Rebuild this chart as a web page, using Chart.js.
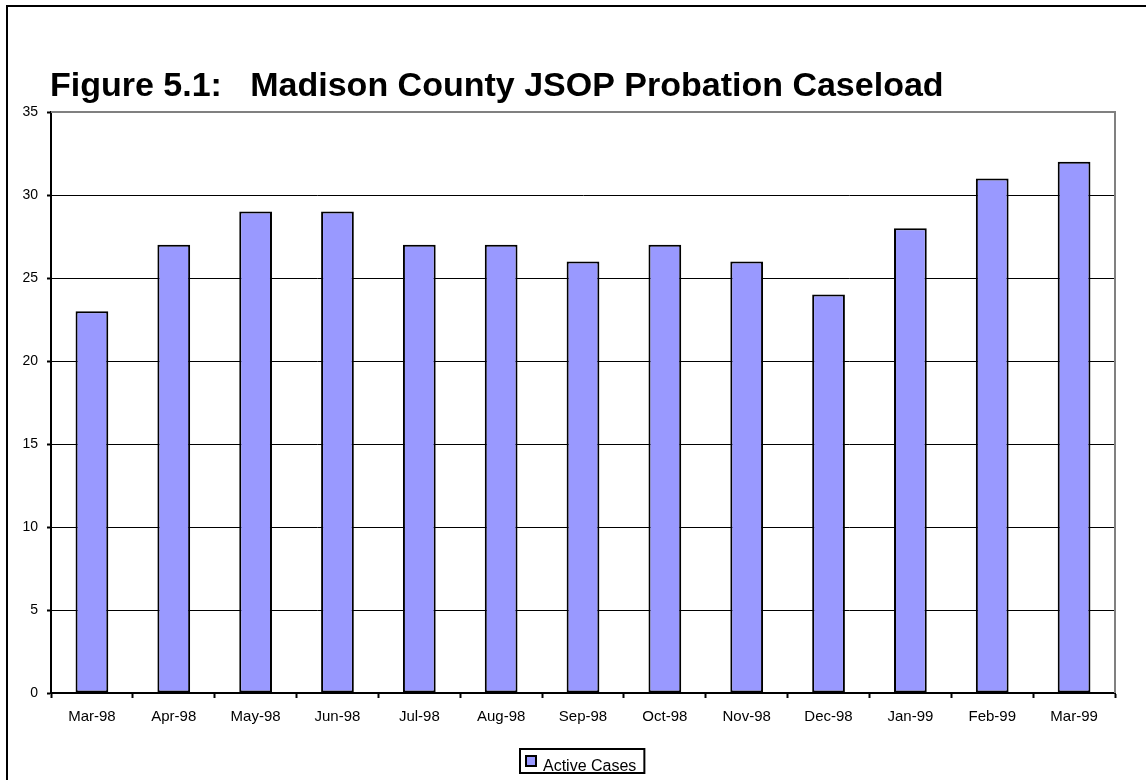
<!DOCTYPE html>
<html>
<head>
<meta charset="utf-8">
<style>
  html, body { margin: 0; padding: 0; background: #fff; }
  #wrap { position: relative; width: 1146px; height: 780px; overflow: hidden; }
  #frame { position: absolute; left: 6px; top: 5px; width: 1200px; height: 800px;
           border-top: 2px solid #000; border-left: 2px solid #000; pointer-events: none; }
  canvas { position: absolute; left: 0; top: 0; }
</style>
</head>
<body>
<div id="wrap">
  <canvas id="chart" width="1146" height="780"></canvas>
  <div id="frame"></div>
</div>
<script src="https://cdn.jsdelivr.net/npm/chart.js@4"></script>
<script>
var months = ['Mar-98', 'Apr-98', 'May-98', 'Jun-98', 'Jul-98', 'Aug-98', 'Sep-98',
              'Oct-98', 'Nov-98', 'Dec-98', 'Jan-99', 'Feb-99', 'Mar-99'];
var activeCases = [23, 27, 29, 29, 27, 27, 26, 27, 26, 24, 28, 31, 32];
var titleText = 'Figure 5.1:   Madison County JSOP Probation Caseload';
var seriesName = 'Active Cases';

var FONT = '"Liberation Sans", Arial, sans-serif';

// title, plot frame and legend box, drawn like the old Excel chart
var decor = {
    id: 'decor',
    beforeDatasetsDraw: function (chart) {
        var c = chart.ctx, a = chart.chartArea;
        c.save();
        c.strokeStyle = '#808080';
        c.lineWidth = 2;
        c.beginPath();
        c.moveTo(a.left, a.top);
        c.lineTo(a.right, a.top);
        c.lineTo(a.right, a.bottom);
        c.stroke();
        c.restore();
    },
    afterDraw: function (chart) {
        var c = chart.ctx;
        c.save();
        c.fillStyle = '#000';
        c.font = 'bold 34px ' + FONT;
        c.textBaseline = 'alphabetic';
        c.fillText(titleText, 50, 96);

        // legend
        var ds = chart.data.datasets[0];
        c.font = '16px ' + FONT;
        var tw = c.measureText(ds.label).width;
        var bw = tw + 31, bx = Math.round(chart.width / 2 - bw / 2 + 9);
        c.lineWidth = 2;
        c.strokeStyle = '#000';
        c.strokeRect(bx, 749, bw, 24);
        c.fillStyle = ds.backgroundColor;
        c.fillRect(bx + 6, 756, 10, 10);
        c.strokeRect(bx + 6, 756, 10, 10);
        c.fillStyle = '#000';
        c.fillText(ds.label, bx + 23, 771);
        c.restore();
    }
};

new Chart(document.getElementById('chart'), {
    type: 'bar',
    data: {
        labels: months,
        datasets: [{
            label: seriesName,
            data: activeCases,
            backgroundColor: '#9999FF',
            borderColor: '#000',
            borderWidth: 2,
            borderSkipped: false,
            barPercentage: 0.4,
            categoryPercentage: 1
        }]
    },
    options: {
        responsive: false,
        animation: false,
        layout: { padding: { left: 0, right: 31, top: 112, bottom: 0 } },
        plugins: {
            legend: { display: false },
            title: { display: false },
            tooltip: { enabled: false }
        },
        scales: {
            x: {
                afterFit: function (s) { s.height = 87; },
                grid: { offset: true, drawOnChartArea: false, tickLength: 5, tickColor: '#000', tickWidth: 2 },
                border: { color: '#000', width: 2 },
                ticks: { color: '#000', font: { family: FONT, size: 15 }, padding: 10, maxRotation: 0 }
            },
            y: {
                min: 0,
                max: 35,
                afterFit: function (s) { s.width = 51; },
                grid: {
                    color: function (ctx) {
                        return (ctx.tick && ctx.tick.value > 0 && ctx.tick.value < 35) ? '#000' : 'rgba(0,0,0,0)';
                    },
                    lineWidth: 1,
                    tickLength: 4,
                    tickColor: '#000',
                    tickWidth: 2
                },
                border: { color: '#000', width: 2 },
                ticks: { stepSize: 5, color: '#000', font: { family: FONT, size: 14 }, padding: 9 }
            }
        }
    },
    plugins: [decor]
});
</script>
</body>
</html>
